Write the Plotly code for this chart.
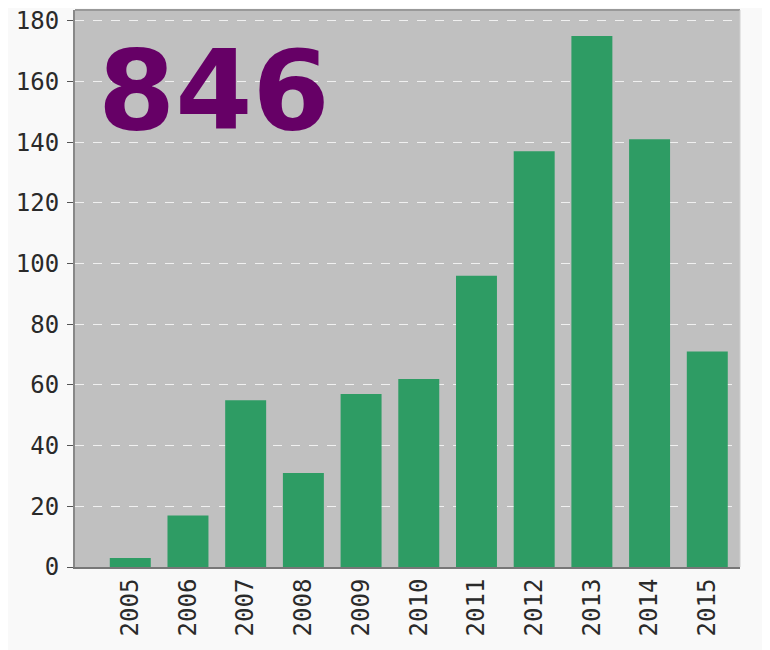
import plotly.graph_objects as go

years = ["2005", "2006", "2007", "2008", "2009", "2010", "2011", "2012", "2013", "2014", "2015"]
counts = [3, 17, 55, 31, 57, 62, 96, 137, 175, 141, 71]
total_label = "846"
y_ticks = [0, 20, 40, 60, 80, 100, 120, 140, 160, 180]

fig = go.Figure()
fig.add_trace(go.Bar(
    x=list(range(len(years))), y=counts,
    width=0.71,
    marker=dict(color="#2e9c64", line=dict(width=0)),
))

tick_font = dict(family="DejaVu Sans Mono", size=24, color="#2a2a2a")

fig.update_layout(
    width=762, height=642,
    margin=dict(l=67, r=30, t=2, b=83),
    paper_bgcolor="#f9f9f9",
    plot_bgcolor="#c0c0c0",
    showlegend=False,
)
fig.update_xaxes(
    range=[-0.958, 10.567],
    tickmode="array",
    tickvals=list(range(len(years))),
    ticktext=years,
    tickangle=-90,
    tickfont=tick_font,
    automargin=False,
    showgrid=False,
    showline=True, linecolor="#777777", linewidth=2,
    ticks="",
    zeroline=False,
)
fig.update_yaxes(
    range=[0, 183.6],
    tickmode="array",
    tickvals=y_ticks,
    tickfont=tick_font,
    ticklabeloverflow="allow",
    ticklabelstandoff=3,
    automargin=False,
    showgrid=True, gridcolor="#f0f0f0", griddash="dash", gridwidth=1,
    showline=True, linecolor="#888888", linewidth=2,
    ticks="outside", ticklen=6, tickcolor="#555555",
    zeroline=False,
)
fig.add_shape(type="line", xref="paper", yref="paper", x0=0, x1=1, y0=1, y1=1,
              line=dict(color="#999999", width=2))
fig.add_shape(type="line", xref="paper", yref="paper", x0=1, x1=1, y0=0, y1=1,
              line=dict(color="#d0d0d0", width=1))

fig.add_annotation(
    text="<b>%s</b>" % total_label,
    xref="paper", yref="paper",
    x=0.031, y=0.975, xanchor="left", yanchor="top",
    showarrow=False,
    font=dict(family="DejaVu Sans", size=111, color="#660066"),
)

fig.write_html("out.html")
